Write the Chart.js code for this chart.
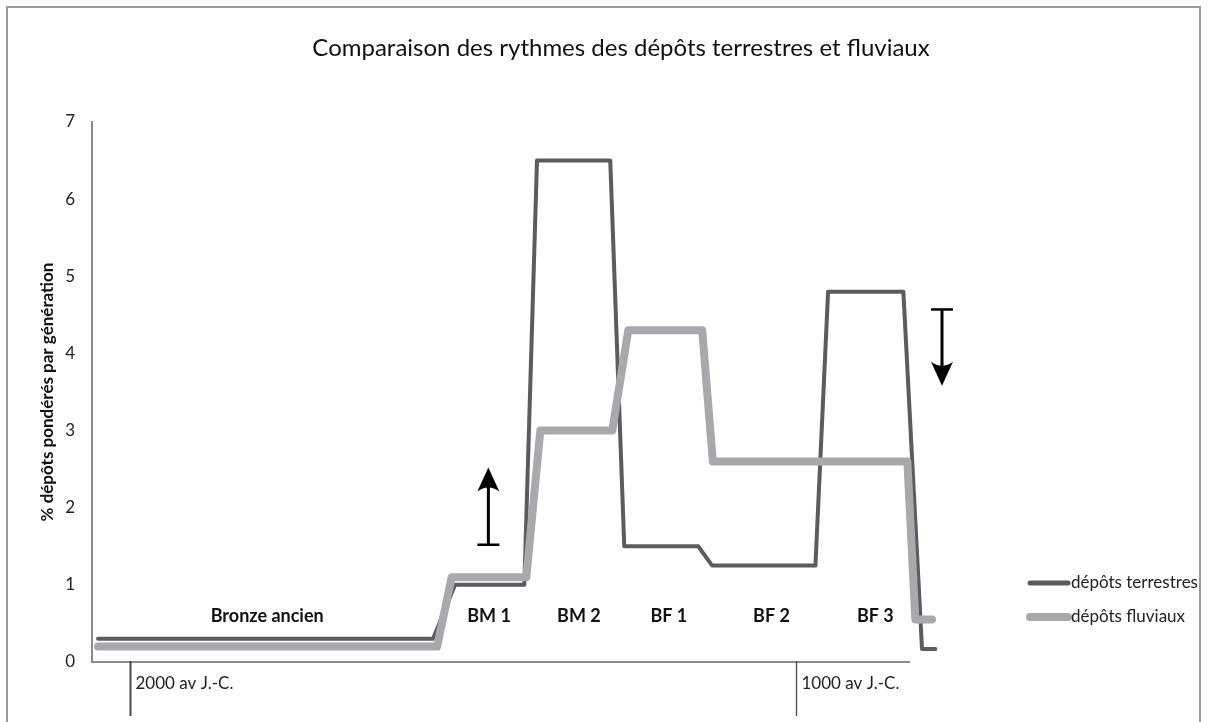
<!DOCTYPE html>
<html>
<head>
<meta charset="utf-8">
<script src="https://cdn.jsdelivr.net/npm/chart.js@4.4.1/dist/chart.umd.min.js"></script>
<style>
  html, body { margin: 0; padding: 0; background: #fff; }
  #c { display: block; }
</style>
</head>
<body>
<canvas id="c" width="1208" height="722"></canvas>
<script>
// ---- data (x in years, negative = av. J.-C.) ----
const terrestresX = [-2048, -1545, -1512, -1408, -1389, -1279, -1258, -1147, -1126, -971, -952, -839, -811, -791];
const terrestresY = [0.3, 0.3, 1.0, 1.0, 6.5, 6.5, 1.5, 1.5, 1.25, 1.25, 4.8, 4.8, 0.17, 0.17];
const fluviauxX   = [-2048, -1539, -1517, -1405, -1384, -1276, -1252, -1141, -1125, -833, -821, -796];
const fluviauxY   = [0.2, 0.2, 1.1, 1.1, 3.0, 3.0, 4.3, 4.3, 2.6, 2.6, 0.55, 0.55];

const periodLabels  = ['Bronze ancien', 'BM 1', 'BM 2', 'BF 1', 'BF 2', 'BF 3'];
const periodCenters = [-1794, -1461, -1326, -1191, -1037, -881];
const periodLevel   = 0.6;

const yearTicks  = [-2000, -1000];
const yearLabels = ['2000 av J.-C.', '1000 av J.-C.'];

// arrows: [x (year), from value, to value]
const arrows = [
  [-1462, 1.52, 2.52],
  [-781, 4.57, 3.58]
];

const chartTitle = 'Comparaison des rythmes des dépôts terrestres et fluviaux';
const seriesNames = ['dépôts terrestres', 'dépôts fluviaux'];
const X_MIN = -2057, X_MAX = -784, AXIS_END = -829;

const DARK = '#5b5c60', LIGHT = '#a7a9ac';
const FONT = 'Lato, "Open Sans", sans-serif';

function pts(xs, ys) { return xs.map((x, i) => ({ x: x, y: ys[i] })); }

const decor = {
  id: 'decor',
  beforeDraw(chart) {
    const ctx = chart.ctx;
    ctx.save();
    ctx.fillStyle = '#fff';
    ctx.fillRect(0, 0, chart.width, chart.height);
    ctx.strokeStyle = '#9a9a9a';
    ctx.lineWidth = 2;
    ctx.strokeRect(7, 7, 1193, 740);
    // title
    ctx.fillStyle = '#111';
    ctx.font = '24px ' + FONT;
    ctx.textAlign = 'center';
    ctx.textBaseline = 'middle';
    ctx.fillText(chartTitle, 621, 48);
    ctx.restore();
  },
  afterDatasetsDraw(chart) {
    const ctx = chart.ctx;
    const xs = chart.scales.x, ys = chart.scales.y;
    ctx.save();
    // x axis line
    const y0 = ys.getPixelForValue(0);
    ctx.strokeStyle = '#8c8c8c';
    ctx.lineWidth = 2;
    ctx.beginPath();
    ctx.moveTo(chart.chartArea.left, y0);
    ctx.lineTo(xs.getPixelForValue(AXIS_END), y0);
    ctx.stroke();

    // year markers
    ctx.strokeStyle = '#4a4a4a';
    ctx.fillStyle = '#222';
    ctx.font = '17px ' + FONT;
    ctx.textAlign = 'left';
    ctx.textBaseline = 'middle';
    yearTicks.forEach((t, i) => {
      const px = Math.round(xs.getPixelForValue(t)) + 0.5;
      ctx.lineWidth = i === 0 ? 2 : 1.3;
      ctx.beginPath();
      ctx.moveTo(px, y0 - 1);
      ctx.lineTo(px, y0 + 54);
      ctx.stroke();
      ctx.fillText(yearLabels[i], px + 5, y0 + 22);
    });

    // period labels
    ctx.font = 'bold 18px ' + FONT;
    ctx.textAlign = 'center';
    ctx.fillStyle = '#111';
    periodLabels.forEach((l, i) => {
      ctx.fillText(l, xs.getPixelForValue(periodCenters[i]), ys.getPixelForValue(periodLevel));
    });

    // arrows
    ctx.fillStyle = '#000';
    ctx.strokeStyle = '#000';
    arrows.forEach(a => {
      const px = xs.getPixelForValue(a[0]);
      const yFrom = ys.getPixelForValue(a[1]);
      const yTo = ys.getPixelForValue(a[2]);
      const dir = yTo < yFrom ? -1 : 1;
      ctx.lineWidth = 2.5;
      ctx.beginPath();
      ctx.moveTo(px - 11, yFrom);
      ctx.lineTo(px + 11, yFrom);
      ctx.stroke();
      ctx.lineWidth = 3;
      ctx.beginPath();
      ctx.moveTo(px, yFrom);
      ctx.lineTo(px, yTo - dir * 14);
      ctx.stroke();
      ctx.beginPath();
      ctx.moveTo(px, yTo);
      ctx.lineTo(px + 11, yTo - dir * 24);
      ctx.quadraticCurveTo(px, yTo - dir * 16, px - 11, yTo - dir * 24);
      ctx.closePath();
      ctx.fill();
    });

    // legend
    const leg = [[DARK, 5, 583], [LIGHT, 8, 617]];
    ctx.lineCap = 'round';
    ctx.font = '17px ' + FONT;
    ctx.textAlign = 'left';
    ctx.textBaseline = 'middle';
    leg.forEach((l, i) => {
      ctx.strokeStyle = l[0];
      ctx.lineWidth = l[1];
      ctx.beginPath();
      ctx.moveTo(1030, l[2]);
      ctx.lineTo(1068, l[2]);
      ctx.stroke();
      ctx.fillStyle = '#222';
      ctx.fillText(seriesNames[i], 1071, l[2]);
    });
    ctx.restore();
  }
};

new Chart(document.getElementById('c'), {
  type: 'line',
  data: {
    datasets: [
      {
        label: seriesNames[0],
        data: pts(terrestresX, terrestresY),
        borderColor: DARK,
        borderWidth: 4,
        borderJoinStyle: 'round',
        borderCapStyle: 'round',
        pointRadius: 0,
        tension: 0,
        fill: false,
        clip: false,
        order: 2
      },
      {
        label: seriesNames[1],
        data: pts(fluviauxX, fluviauxY),
        borderColor: LIGHT,
        borderWidth: 8,
        borderJoinStyle: 'round',
        borderCapStyle: 'round',
        pointRadius: 0,
        tension: 0,
        fill: false,
        clip: false,
        order: 1
      }
    ]
  },
  options: {
    responsive: false,
    animation: false,
    events: [],
    layout: { padding: { left: 0, top: 122, right: 268, bottom: 60 } },
    plugins: {
      legend: { display: false },
      tooltip: { enabled: false },
      title: { display: false }
    },
    scales: {
      x: {
        type: 'linear',
        display: false,
        min: X_MIN,
        max: X_MAX
      },
      y: {
        min: 0,
        max: 7,
        afterFit(s) { s.width = 92; },
        grid: { display: false, drawTicks: false },
        border: { display: true, color: '#8c8c8c', width: 2 },
        ticks: {
          stepSize: 1,
          padding: 17,
          color: '#222',
          font: { family: FONT, size: 17 }
        },
        title: {
          display: true,
          text: '% dépôts pondérés par génération',
          color: '#111',
          font: { family: FONT, size: 17, weight: 'bold', lineHeight: 1.2 },
          padding: { top: 37, bottom: 0 }
        }
      }
    }
  },
  plugins: [decor]
});
</script>
</body>
</html>
